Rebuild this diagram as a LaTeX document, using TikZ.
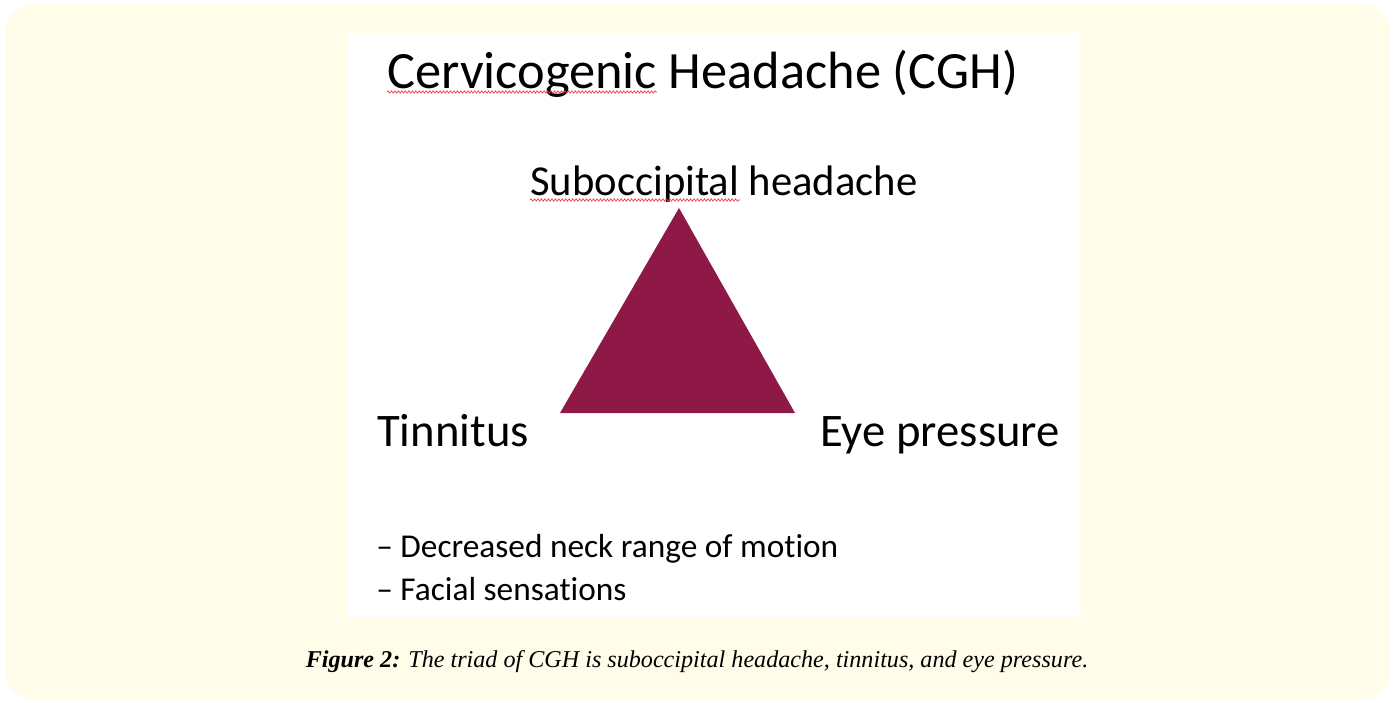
\documentclass[tikz,border=0pt]{standalone}
\usepackage{fontspec}
\setmainfont{Carlito}[RawFeature=-liga]
\newfontfamily\capfont{Liberation Serif}
\usetikzlibrary{decorations.pathmorphing}
\definecolor{bgcream}{HTML}{FFFCE9}
\definecolor{triwine}{HTML}{8E1846}
\definecolor{spellred}{HTML}{E84040}
\tikzset{
  lbl/.style={anchor=base west, inner sep=0pt, text=black},
  squig/.style={draw=spellred, line width=0.5pt, decorate, decoration={snake, amplitude=0.9pt, segment length=2.6pt}},
}
\begin{document}
\begin{tikzpicture}[x=0.75pt,y=-0.75pt]
\useasboundingbox (0,0) rectangle (1393,703);
\fill[white] (0,0) rectangle (1393,703);
\fill[bgcream, rounded corners=22.5pt] (5,4) rectangle (1390,700);
\fill[white] (348,33) rectangle (1080,617);
% triangle
\coordinate (apex) at (679,208);
\coordinate (bl) at (560,413);
\coordinate (br) at (795,413);
\fill[triwine] (apex) -- (bl) -- (br) -- cycle;
% texts
\node[lbl, font=\fontsize{39.3}{47}\selectfont] (title) at (387,88) {Cervicogenic Headache (CGH)};
\node[lbl, font=\fontsize{32}{38}\selectfont] (sub) at (530,195) {Suboccipital headache};
\node[lbl, font=\fontsize{35}{42}\selectfont] (tin) at (377,446) {Tinnitus};
\node[lbl, font=\fontsize{35}{42}\selectfont] (eye) at (820,446) {Eye pressure};
\node[lbl, font=\fontsize{25}{30}\selectfont] (b1) at (376,557) {– Decreased neck range of motion};
\node[lbl, font=\fontsize{25}{30}\selectfont] (b2) at (376,600) {– Facial sensations};
\node[anchor=base, inner sep=0pt, font=\capfont\fontsize{18.1}{22}\selectfont] (cap) at (697,667) {\textbf{\textit{Figure 2:}} \textit{The triad of CGH is suboccipital headache, tinnitus, and eye pressure.}};
% spell-check squiggles
\coordinate (s1a) at (387,92);
\coordinate (s1b) at (657,92);
\coordinate (s2a) at (530,200);
\coordinate (s2b) at (740,200);
\draw[squig] (s1a) -- (s1b);
\draw[squig] (s2a) -- (s2b);
\end{tikzpicture}
\end{document}
